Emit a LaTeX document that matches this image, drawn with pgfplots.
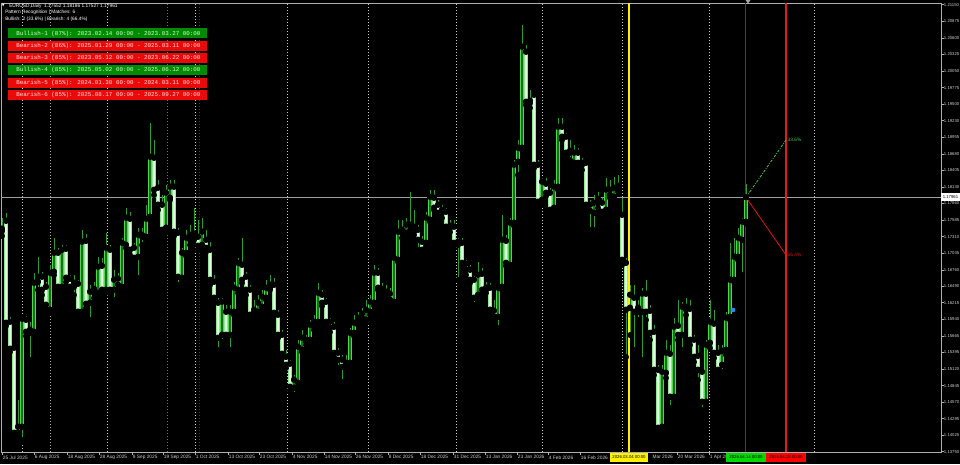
\documentclass[border=0pt]{standalone}
\usepackage{pgfplots}
\pgfplotsset{compat=1.18}
\usepackage{pgfplotstable}
\usepackage{fontspec}
\setmainfont{Liberation Sans}
\newfontfamily\monofont{Liberation Mono}
\newfontfamily\symfont{DejaVu Sans}

\definecolor{bullline}{RGB}{80,215,80}
\definecolor{bullfill}{RGB}{25,110,25}
\definecolor{bearline}{RGB}{140,235,140}
\definecolor{bearfill}{RGB}{228,255,228}
\definecolor{wick}{RGB}{45,155,45}
\definecolor{framegray}{RGB}{175,175,175}
\definecolor{labgray}{RGB}{205,205,205}
\definecolor{sepgray}{RGB}{205,205,205}
\definecolor{boxgreen}{RGB}{0,140,0}
\definecolor{boxred}{RGB}{235,10,10}
\definecolor{mtyellow}{RGB}{255,240,0}
\definecolor{mtred}{RGB}{225,30,30}
\definecolor{mtdkgreen}{RGB}{0,110,0}
\definecolor{projgreen}{RGB}{60,200,60}
\definecolor{projred}{RGB}{225,20,20}
\definecolor{dotblue}{RGB}{30,144,255}

% daily EURUSD candles, x = bar number
\pgfplotstableread{
x o h l c
0 1.17437 1.17619 1.17321 1.17403
1 1.17569 1.17701 1.15831 1.15880
2 1.15897 1.15980 1.15400 1.15450
3 1.15467 1.15516 1.14010 1.14059
4 1.14059 1.14606 1.13977 1.14159
5 1.14159 1.15997 1.13943 1.15947
6 1.15930 1.15997 1.15665 1.15731
7 1.15714 1.15897 1.15268 1.15764
8 1.15731 1.16708 1.15681 1.16542
9 1.16559 1.16973 1.16427 1.16642
10 1.16642 1.16725 1.16344 1.16427
11 1.16476 1.16559 1.16096 1.16178
12 1.16096 1.16840 1.16063 1.16708
13 1.16725 1.17288 1.16675 1.17039
14 1.17039 1.17122 1.16427 1.16476
15 1.16476 1.17171 1.16394 1.17089
16 1.17106 1.17171 1.16559 1.16626
17 1.16609 1.16675 1.16427 1.16476
18 1.16476 1.16675 1.16344 1.16542
19 1.16526 1.16592 1.15997 1.16063
20 1.16063 1.17420 1.15997 1.17221
21 1.17237 1.17354 1.16129 1.16195
22 1.16212 1.16509 1.15930 1.16394
23 1.16443 1.16559 1.16295 1.16377
24 1.16377 1.16973 1.16328 1.16807
25 1.16824 1.16956 1.16344 1.16427
26 1.16427 1.17370 1.16377 1.17122
27 1.17089 1.17171 1.16377 1.16427
28 1.16427 1.16758 1.16261 1.16592
29 1.16609 1.16708 1.16427 1.16509
30 1.16476 1.17288 1.16427 1.17204
31 1.17171 1.17785 1.17122 1.17619
32 1.17602 1.17718 1.17006 1.17089
33 1.17122 1.17204 1.16890 1.16956
34 1.16973 1.17454 1.16626 1.17337
35 1.17304 1.17454 1.17171 1.17337
36 1.17304 1.17834 1.17254 1.17602
37 1.17635 1.19191 1.17586 1.18629
38 1.18612 1.18910 1.17999 1.18082
39 1.18116 1.18248 1.17751 1.17834
40 1.17834 1.17999 1.17337 1.17420
41 1.17454 1.18165 1.17387 1.18032
42 1.17950 1.18248 1.17917 1.18132
43 1.18132 1.18248 1.17321 1.17387
44 1.17370 1.17454 1.16509 1.16642
45 1.16626 1.17122 1.16559 1.17039
46 1.17039 1.17420 1.16990 1.17288
47 1.17254 1.17503 1.17171 1.17337
48 1.17354 1.17785 1.17254 1.17304
49 1.17304 1.17586 1.17089 1.17155
50 1.17171 1.17619 1.17089 1.17387
51 1.17254 1.17420 1.17056 1.17122
52 1.17089 1.17221 1.16509 1.16592
53 1.16559 1.16675 1.16212 1.16295
54 1.16212 1.16295 1.15433 1.15632
55 1.15681 1.16295 1.15566 1.16228
56 1.16063 1.16178 1.15599 1.15681
57 1.15681 1.16178 1.15433 1.16063
58 1.16063 1.16559 1.16013 1.16460
59 1.16427 1.16956 1.16377 1.16873
60 1.16840 1.17288 1.16542 1.16592
61 1.16642 1.16725 1.16344 1.16427
62 1.16427 1.16509 1.15963 1.16013
63 1.16046 1.16261 1.15963 1.16096
64 1.16063 1.16344 1.16013 1.16212
65 1.16145 1.16427 1.16096 1.16311
66 1.16295 1.16592 1.16261 1.16460
67 1.16460 1.16675 1.16427 1.16509
68 1.16509 1.16626 1.15997 1.16046
69 1.16013 1.16096 1.15632 1.15681
70 1.15681 1.15764 1.15301 1.15367
71 1.15317 1.15433 1.15135 1.15185
72 1.15202 1.15268 1.14738 1.14821
73 1.14805 1.15019 1.14688 1.14937
74 1.14887 1.15599 1.14838 1.15483
75 1.15433 1.15764 1.15400 1.15632
76 1.15599 1.15681 1.15516 1.15566
77 1.15599 1.15930 1.15516 1.15847
78 1.15814 1.16013 1.15764 1.15897
79 1.15897 1.16542 1.15847 1.16377
80 1.16344 1.16427 1.16162 1.16212
81 1.16228 1.16295 1.15847 1.15897
82 1.15897 1.15963 1.15731 1.15797
83 1.15814 1.15897 1.15317 1.15383
84 1.15383 1.15466 1.15135 1.15268
85 1.15268 1.15350 1.14904 1.15152
86 1.15135 1.15350 1.15069 1.15218
87 1.15218 1.15797 1.15168 1.15714
88 1.15714 1.16013 1.15665 1.15880
89 1.15930 1.16063 1.15847 1.15963
90 1.15963 1.16129 1.15930 1.16030
91 1.15930 1.16261 1.15897 1.16096
92 1.16063 1.16344 1.16013 1.16228
93 1.16212 1.16840 1.16162 1.16708
94 1.16708 1.16791 1.16427 1.16460
95 1.16410 1.16542 1.16344 1.16443
96 1.16295 1.16509 1.16228 1.16394
97 1.16361 1.16460 1.16212 1.16261
98 1.16228 1.17006 1.16178 1.16956
99 1.16923 1.17586 1.16890 1.17387
100 1.17370 1.17586 1.17288 1.17420
101 1.17370 1.17619 1.17321 1.17503
102 1.17487 1.18049 1.17420 1.17503
103 1.17470 1.17751 1.17337 1.17387
104 1.17420 1.17503 1.17089 1.17254
105 1.17221 1.17321 1.17039 1.17089
106 1.17204 1.17718 1.17155 1.17619
107 1.17586 1.18082 1.17553 1.17966
108 1.17950 1.18082 1.17751 1.17785
109 1.17834 1.17917 1.17652 1.17701
110 1.17701 1.17834 1.17619 1.17751
111 1.17718 1.17785 1.17420 1.17470
112 1.17454 1.17586 1.17387 1.17487
113 1.17470 1.17586 1.17155 1.17204
114 1.17171 1.17288 1.16592 1.17221
115 1.17204 1.17288 1.16824 1.16873
116 1.16857 1.16923 1.16675 1.16758
117 1.16758 1.16840 1.16542 1.16592
118 1.16592 1.16658 1.16178 1.16295
119 1.16344 1.16890 1.16261 1.16675
120 1.16691 1.16791 1.16377 1.16427
121 1.16427 1.16559 1.16377 1.16460
122 1.16460 1.16542 1.16046 1.16096
123 1.16079 1.16261 1.15930 1.15980
124 1.15980 1.16476 1.15797 1.16460
125 1.16476 1.17668 1.16427 1.17254
126 1.17237 1.17337 1.16824 1.16873
127 1.16840 1.17619 1.16791 1.17536
128 1.17536 1.18579 1.17487 1.18496
129 1.18546 1.18910 1.18330 1.18778
130 1.18778 1.20814 1.18745 1.20450
131 1.20367 1.20483 1.19489 1.19539
132 1.19522 1.19738 1.19440 1.19555
133 1.19655 1.19705 1.18446 1.18496
134 1.18496 1.18579 1.17834 1.17884
135 1.17917 1.18281 1.17834 1.18215
136 1.18182 1.18281 1.17983 1.18032
137 1.18032 1.18115 1.17718 1.17751
138 1.17785 1.18248 1.17718 1.18132
139 1.18132 1.19274 1.18082 1.19125
140 1.19125 1.19274 1.18910 1.18960
141 1.18960 1.19026 1.18612 1.18695
142 1.18695 1.18910 1.18579 1.18728
143 1.18529 1.18827 1.18480 1.18695
144 1.18695 1.18778 1.18446 1.18529
145 1.18496 1.18612 1.18413 1.18529
146 1.18529 1.18579 1.17785 1.17834
147 1.17834 1.17917 1.17420 1.17735
148 1.17701 1.17999 1.17420 1.17867
149 1.17933 1.18049 1.17785 1.17867
150 1.17867 1.17950 1.17668 1.17718
151 1.17751 1.18281 1.17701 1.18082
152 1.18082 1.18248 1.17950 1.17999
153 1.17966 1.18297 1.17917 1.18115
154 1.18082 1.18330 1.18049 1.18149
155 1.17668 1.17950 1.16840 1.16923
156 1.16873 1.16956 1.15317 1.16096
157 1.16129 1.16509 1.15681 1.16344
158 1.16295 1.16509 1.15433 1.16063
159 1.16129 1.16261 1.15930 1.16063
160 1.16063 1.16460 1.15268 1.16361
161 1.16361 1.16592 1.15930 1.16063
162 1.16079 1.16178 1.15599 1.15714
163 1.15731 1.15847 1.15019 1.15102
164 1.15102 1.15185 1.14109 1.14142
165 1.14159 1.15185 1.14076 1.15069
166 1.15052 1.15599 1.14970 1.15383
167 1.15367 1.15516 1.14474 1.14656
168 1.14656 1.15963 1.14606 1.15814
169 1.15831 1.16261 1.15599 1.15681
170 1.15681 1.16228 1.15433 1.16145
171 1.16145 1.16295 1.16013 1.16096
172 1.16112 1.16261 1.15516 1.15599
173 1.15599 1.15681 1.15235 1.15317
174 1.15334 1.15516 1.14937 1.15102
175 1.15069 1.15102 1.14440 1.14573
176 1.14573 1.15599 1.14474 1.15516
177 1.15549 1.16261 1.15466 1.15897
178 1.15864 1.16096 1.15301 1.15383
179 1.15383 1.15516 1.15019 1.15102
180 1.15185 1.15516 1.15069 1.15416
181 1.15433 1.16063 1.15350 1.15963
182 1.15980 1.17204 1.15930 1.16592
183 1.16592 1.17288 1.16559 1.16973
184 1.16973 1.17454 1.16923 1.17288
185 1.17254 1.17619 1.16675 1.17553
186 1.17552 1.18186 1.17527 1.17961
}\candles

\begin{document}
\begin{tikzpicture}[font=\fontsize{3.6pt}{4.2pt}\selectfont]
\fill[black] (0,0) rectangle (720pt,348pt);
\begin{axis}[
    at={(0.75pt,9pt)}, anchor=south west,
    width=705pt, height=336.75pt, scale only axis,
    xmin=-0.25, xmax=234.75,
    ymin=1.13745, ymax=1.21178,
    axis background/.style={fill=black},
    axis line style={framegray, line width=0.6pt},
    tick align=outside,
    major tick length=2pt,
    tick style={framegray, line width=0.5pt},
    xtick pos=bottom, ytick pos=right, yticklabel pos=right,
    ytick={1.13750,1.14025,1.14295,1.14570,1.14845,1.15120,1.15395,1.15665,1.15940,1.16215,1.16490,1.16760,1.17035,1.17310,1.17585,1.17860,1.18130,1.18405,1.18680,1.18955,1.19230,1.19500,1.19775,1.20050,1.20325,1.20600,1.20875,1.21150},
    yticklabels={1.13750,1.14025,1.14295,1.14570,1.14845,1.15120,1.15395,1.15665,1.15940,1.16215,1.16490,1.16760,1.17035,1.17310,1.17585,1.17860,1.18130,1.18405,1.18680,1.18955,1.19230,1.19500,1.19775,1.20050,1.20325,1.20600,1.20875,1.21150},
    yticklabel style={anchor=west, inner sep=0.5pt, xshift=-0.5pt, text=labgray, font=\fontsize{3.2pt}{3.8pt}\selectfont},
    xtick={0,8,16.25,24.25,32.5,40.25,48.25,56.5,64.25,72.5,80.5,88.25,96.5,104.5,112.75,120.75,128.75,136.5,144.5,152.75,160.75,168.75,176.75},
    xticklabels={25 Jul 2025,6 Aug 2025,18 Aug 2025,28 Aug 2025,9 Sep 2025,19 Sep 2025,1 Oct 2025,13 Oct 2025,23 Oct 2025,4 Nov 2025,14 Nov 2025,26 Nov 2025,8 Dec 2025,18 Dec 2025,31 Dec 2025,13 Jan 2026,23 Jan 2026,4 Feb 2026,16 Feb 2026,{},{\phantom{10 }Mar 2026},20 Mar 2026,1 Apr 2026},
    xticklabel style={anchor=north west, inner sep=0.5pt, xshift=0pt, text=labgray, font=\fontsize{3.6pt}{4.2pt}\selectfont},
]
% period separators
\pgfplotsinvokeforeach{5,26.25,48.25,71.25,91.5,113.5,135,155,176.75,203}{
  \draw[sepgray, line width=0.5pt, dash pattern=on 0.75pt off 1.5pt] (axis cs:#1,1.13745) -- (axis cs:#1,1.21178);
}
\draw[gray!60, line width=0.5pt, dash pattern=on 0.75pt off 1.5pt] (axis cs:12,1.13745) -- (axis cs:12,1.21178);
\draw[green!75!black, line width=0.5pt, dash pattern=on 0.75pt off 1.5pt] (axis cs:41.25,1.13745) -- (axis cs:41.25,1.21178);
\draw[red!85!black, line width=0.5pt, dash pattern=on 0.75pt off 1.5pt] (axis cs:49.25,1.13745) -- (axis cs:49.25,1.21178);

% current price line
\draw[gray!75, line width=0.6pt] (axis cs:-0.25,1.17961) -- (axis cs:234.75,1.17961);

% wicks
\addplot[only marks, mark=none, forget plot,
  error bars/.cd, y dir=plus, y explicit, error mark=none,
  error bar style={draw=wick, line width=0.7pt}]
  table[x=x, y=l, y error expr=\thisrow{h}-\thisrow{l}] {\candles};
% bullish bodies
\addplot[only marks, mark=none, forget plot,
  error bars/.cd, y dir=plus, y explicit, error mark=none,
  error bar style={draw=bullline, line width=2.3pt}]
  table[x=x, y=o, y error expr={max(\thisrow{c}-\thisrow{o},0)}] {\candles};
\addplot[only marks, mark=none, forget plot,
  error bars/.cd, y dir=plus, y explicit, error mark=none,
  error bar style={draw=bullfill, line width=0.8pt}]
  table[x=x, y expr=\thisrow{o}+0.00009, y error expr={max(\thisrow{c}-\thisrow{o}-0.00018,0)}] {\candles};
% bearish bodies
\addplot[only marks, mark=none, forget plot,
  error bars/.cd, y dir=plus, y explicit, error mark=none,
  error bar style={draw=bearline, line width=2.3pt}]
  table[x=x, y=c, y error expr={max(\thisrow{o}-\thisrow{c},0)}] {\candles};
\addplot[only marks, mark=none, forget plot,
  error bars/.cd, y dir=plus, y explicit, error mark=none,
  error bar style={draw=bearfill, line width=1.1pt}]
  table[x=x, y expr=\thisrow{c}+0.00009, y error expr={max(\thisrow{o}-\thisrow{c}-0.00018,0)}] {\candles};

% object lines
\draw[mtyellow, line width=1.1pt] (axis cs:156.75,1.13745) -- (axis cs:156.75,1.21178);
\draw[mtdkgreen, line width=0.6pt] (axis cs:185.75,1.13745) -- (axis cs:185.75,1.21178);
\draw[mtred, line width=1.9pt] (axis cs:196,1.13745) -- (axis cs:196,1.21178);

% projection
\addplot[projgreen, line width=0.6pt, dash pattern=on 2pt off 1pt on 0.6pt off 1pt] coordinates {(186,1.17961) (196,1.18910)};
\addplot[projred, line width=0.6pt] coordinates {(186,1.17961) (196,1.17006)};
\node[anchor=west, text=projgreen, inner sep=0.5pt, font=\fontsize{3.6pt}{4.2pt}\selectfont] at (axis cs:196.2,1.18910) {33.6\%};
\node[anchor=west, text=projred, inner sep=0.5pt, font=\fontsize{3.6pt}{4.2pt}\selectfont] at (axis cs:196.2,1.17006) {66.4\%};

% signal dot
\addplot[only marks, mark=*, mark size=1.5pt, color=dotblue] coordinates {(182.75,1.16096)};
\end{axis}

% overlay in screen pixels
\begin{scope}[x=0.75pt, y=-0.75pt, shift={(0pt,348pt)}]
  \node[anchor=west, inner sep=0, text=white] at (1.5,6) {{\symfont\fontsize{2.8pt}{3pt}\selectfont ▼}};
  \node[anchor=west, inner sep=0, text=white] at (9,6) {EURUSD,Daily\ \ 1.17552 1.18186 1.17527 1.17961};
  \node[anchor=west, inner sep=0, text=white] at (5,12.7) {Pattern Recognition | Matches: 6};
  \node[anchor=west, inner sep=0, text=white] at (5,18.9) {Bullish: 2 (33.6\%) | Bearish: 4 (66.4\%)};

  \fill[boxgreen] (8,28.5) rectangle (207,38.5);
  \fill[boxred]   (8,40.8) rectangle (207,50.8);
  \fill[boxred]   (8,53.1) rectangle (207,63.1);
  \fill[boxgreen] (8,65.4) rectangle (207,75.4);
  \fill[boxred]   (8,77.7) rectangle (207,87.7);
  \fill[boxred]   (8,90.0) rectangle (207,100.0);
  \begin{scope}[every node/.style={anchor=west, inner sep=0, font=\monofont\fontsize{4.4pt}{5pt}\selectfont}]
    \node[text={rgb,255:red,215;green,255;blue,215}] at (16,33.5) {Bullish-1 (87\%): 2023.02.14 00:00 - 2023.03.27 00:00};
    \node[text={rgb,255:red,255;green,225;blue,225}] at (16,45.8) {Bearish-2 (86\%): 2025.01.29 00:00 - 2025.03.11 00:00};
    \node[text={rgb,255:red,255;green,225;blue,225}] at (16,58.1) {Bearish-3 (85\%): 2023.05.12 00:00 - 2023.06.22 00:00};
    \node[text={rgb,255:red,215;green,255;blue,215}] at (16,70.4) {Bullish-4 (85\%): 2025.05.02 00:00 - 2025.06.12 00:00};
    \node[text={rgb,255:red,255;green,225;blue,225}] at (16,82.7) {Bearish-5 (85\%): 2024.01.30 00:00 - 2024.03.11 00:00};
    \node[text={rgb,255:red,255;green,225;blue,225}] at (16,95.0) {Bearish-6 (85\%): 2025.08.17 00:00 - 2025.09.27 00:00};
  \end{scope}

  % time labels of the vertical lines
  \fill[mtyellow] (610,453) rectangle (648,462);
  \node[anchor=center, inner sep=0, text=black, font=\fontsize{3.2pt}{3.6pt}\selectfont] at (629,457.5) {2026.03.04 00:00};
  \fill[green!85!black] (726,453) rectangle (766,462);
  \node[anchor=center, inner sep=0, text=black, font=\fontsize{3.2pt}{3.6pt}\selectfont] at (746,457.5) {2026.04.14 00:00};
  \fill[red] (766,453) rectangle (806,462);
  \node[anchor=center, inner sep=0, text=black, font=\fontsize{3.2pt}{3.6pt}\selectfont] at (786,457.5) {2026.04.28 00:00};

  % price label
  \fill[white] (941,193) rectangle (960,201.5);
  \node[anchor=west, inner sep=0, text=black, font=\fontsize{3.2pt}{3.8pt}\selectfont] at (942.5,197.2) {1.17961};

  % chart shift marker
  \fill[gray!70] (745.5,0) -- (750.5,0) -- (748,3.5) -- cycle;
\end{scope}
\pgfresetboundingbox
\useasboundingbox (0,0) rectangle (720pt,348pt);
\end{tikzpicture}
\end{document}
